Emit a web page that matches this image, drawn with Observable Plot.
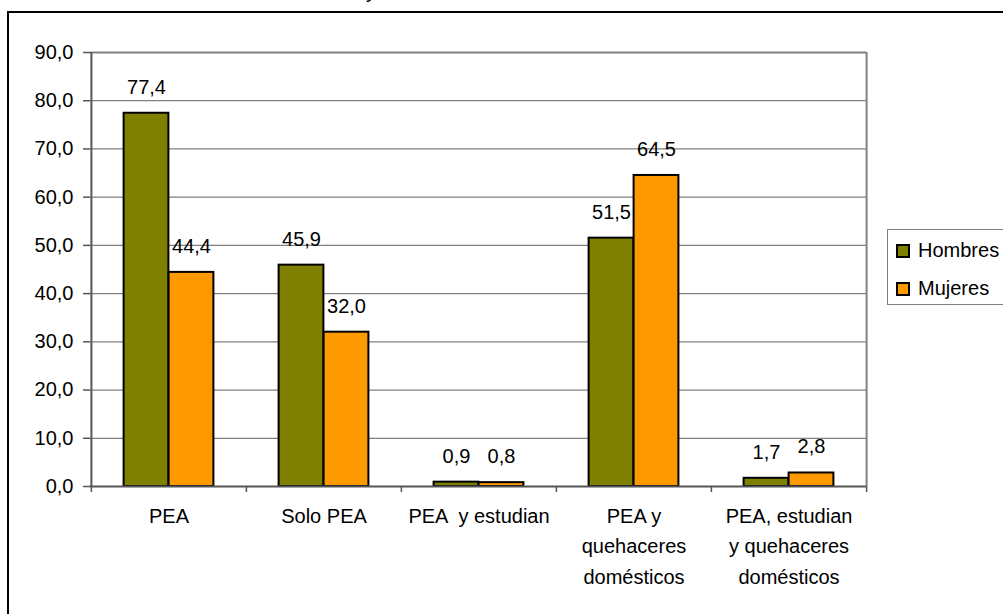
<!DOCTYPE html>
<html><head><meta charset="utf-8">
<script src="https://cdn.jsdelivr.net/npm/d3@7"></script>
<script src="https://cdn.jsdelivr.net/npm/@observablehq/plot@0.6"></script>
<style>
html,body{margin:0;padding:0;background:#fff;}
body{width:1003px;height:614px;overflow:hidden;position:relative;font-family:"Liberation Sans",Arial,sans-serif;}
#frame{position:absolute;left:7px;top:11px;width:1100px;height:700px;border-top:2px solid #000;border-left:2px solid #000;}
#title{position:absolute;left:366px;top:-19px;font-size:20px;line-height:20px;color:#000;white-space:nowrap;}
#chart{position:absolute;left:0;top:0;}
#legend{position:absolute;left:887px;top:229px;width:200px;height:74px;border:1.5px solid #808080;background:#fff;}
.item{position:absolute;left:8px;font-size:20px;line-height:20px;color:#000;white-space:nowrap;}
.sw{display:inline-block;width:10px;height:10px;border:2px solid #000;margin-right:8px;vertical-align:-1px;}
</style>
</head><body>
<div id="frame"></div>
<div id="title">y</div>
<div id="chart"></div>
<div id="legend"></div>
<script>
const categories = ["PEA","Solo PEA","PEA y estudian","PEA y quehaceres domésticos","PEA, estudian y quehaceres domésticos"];
const tickLabels = ["PEA","Solo PEA","PEA  y estudian","PEA y\nquehaceres\ndomésticos","PEA, estudian\ny quehaceres\ndomésticos"];
const series = ["Hombres","Mujeres"];
const hombres = [77.4,45.9,0.9,51.5,1.7];
const mujeres = [44.4,32.0,0.8,64.5,2.8];
const colors = ["#808000","#FF9900"];
const yTicks = [0,10,20,30,40,50,60,70,80,90];

const W = 1003, H = 614, mL = 90, mR = 137, mT = 52, mB = 128;
const bw = (W - mL - mR) / categories.length;
const barW = 45;
const half = bw / 2;

const data = [];
categories.forEach((c, i) => {
  data.push({cat: c, series: series[0], value: hombres[i]});
  data.push({cat: c, series: series[1], value: mujeres[i]});
});
const H_ = data.filter(d => d.series === series[0]);
const M_ = data.filter(d => d.series === series[1]);
const fmt = d => d.toFixed(1).replace(".", ",");
const labelMap = new Map(categories.map((c, i) => [c, tickLabels[i]]));
const FS = 20;

const chart = Plot.plot({
  width: W, height: H,
  marginLeft: mL, marginRight: mR, marginTop: mT, marginBottom: mB,
  style: {fontFamily: "'Liberation Sans', Arial, sans-serif", fontSize: FS + "px", color: "#000", background: "transparent", overflow: "visible"},
  x: {type: "band", domain: categories, paddingInner: 0, paddingOuter: 0, axis: null, label: null},
  y: {domain: [0, 90], axis: null, label: null},
  marks: [
    Plot.ruleY(yTicks.filter(d => d > 0 && d < 90), {stroke: "#808080", strokeWidth: 1.2}),
    Plot.ruleY([90], {stroke: "#808080", strokeWidth: 2}),
    Plot.barY(H_, {x: "cat", y: "value", fill: colors[0], stroke: "#000", strokeWidth: 2, insetLeft: half - barW, insetRight: half}),
    Plot.barY(M_, {x: "cat", y: "value", fill: colors[1], stroke: "#000", strokeWidth: 2, insetLeft: half, insetRight: half - barW}),
    Plot.ruleX(categories, {x: d => d, dx: -half, y1: 0, y2: 0, insetBottom: -6, stroke: "#555", strokeWidth: 1.5}),
    Plot.ruleX(categories.slice(-1), {x: d => d, dx: half, y1: 0, y2: 0, insetBottom: -6, stroke: "#555", strokeWidth: 1.5}),
    Plot.ruleX(categories.slice(-1), {x: d => d, dx: half, y1: 0, y2: 90, stroke: "#808080", strokeWidth: 2}),
    Plot.ruleX(categories.slice(0, 1), {x: d => d, dx: -half, y1: 0, y2: 90, stroke: "#555", strokeWidth: 2}),
    Plot.ruleY([0], {stroke: "#555", strokeWidth: 2}),
    Plot.axisY(yTicks, {tickSize: 7, tickPadding: 10, tickFormat: fmt, stroke: "#555", strokeWidth: 1.5, fill: "#000", fontSize: FS, label: null}),
    Plot.axisX(categories, {tickSize: 0, tickPadding: 15, tickFormat: d => labelMap.get(d), lineHeight: 1.52, fill: "#000", fontSize: FS, label: null}),
    Plot.text(H_, {x: "cat", y: "value", dx: -barW / 2, dy: -19.5, lineAnchor: "bottom", text: d => fmt(d.value), fill: "#000", fontSize: FS}),
    Plot.text(M_, {x: "cat", y: "value", dx: barW / 2, dy: -19.5, lineAnchor: "bottom", text: d => fmt(d.value), fill: "#000", fontSize: FS})
  ]
});
document.getElementById("chart").appendChild(chart);

const legend = document.getElementById("legend");
series.forEach((s, i) => {
  const it = document.createElement("div");
  it.className = "item";
  it.style.top = (10 + i * 38) + "px";
  it.innerHTML = `<span class="sw" style="background:${colors[i]}"></span>${s}`;
  legend.appendChild(it);
});
</script>
</body></html>
